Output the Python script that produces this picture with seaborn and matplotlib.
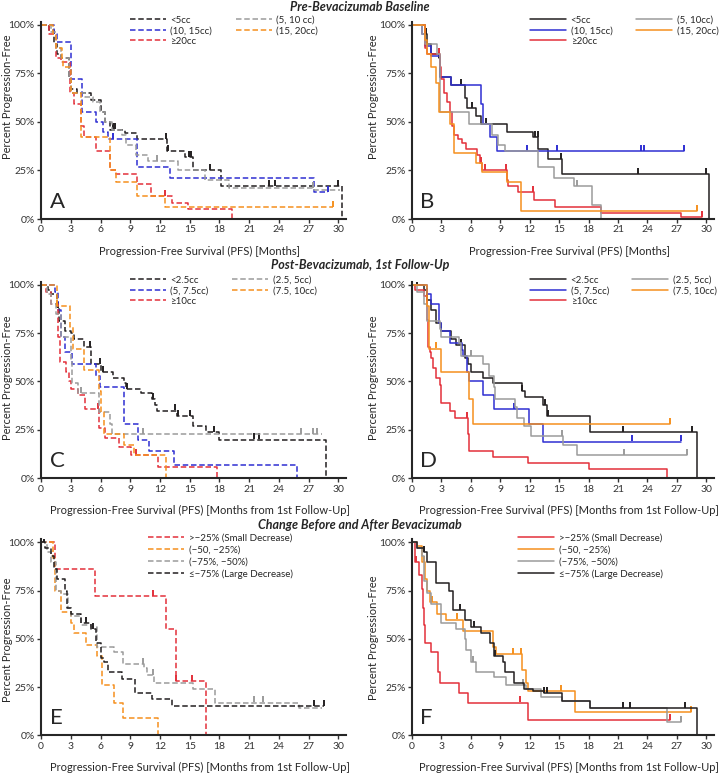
import numpy as np
import pandas as pd
import seaborn as sns
import matplotlib.pyplot as plt

# ---- Kaplan-Meier step data (time in months, survival in %), censor times ----
# Panel A / B : pre-bevacizumab baseline volume
a_lt5_t = [0, 0.8, 1.3, 1.6, 2.0, 2.8, 3.0, 3.6, 5.0, 6.0, 6.5, 7.0, 8.5, 9.7, 12.7, 14.5, 15.3, 18.2, 30.4]
a_lt5_s = [100, 97, 90, 85, 83, 72, 67, 65, 61, 55, 50, 46, 44, 41, 35, 32, 25, 17, 0]
a_lt5_c = [7.3, 7.5, 12.6, 12.8, 14.9, 15.1, 17.0, 23.0, 23.6, 30.0]
a_5_10_t = [0, 1.0, 1.5, 2.0, 2.8, 3.0, 4.4, 5.2, 5.9, 6.5, 7.2, 8.2, 8.6, 9.6, 10.8, 13.8, 16.5, 19.0, 27.5, 30.2]
a_5_10_s = [100, 96, 88, 83, 72, 65, 63, 60, 55, 50, 46, 43, 38, 33, 30, 25, 20, 16, 15, 15]
a_5_10_c = [11.7, 27.4]
a_10_15_t = [0, 1.3, 1.6, 3.0, 4.1, 5.5, 6.3, 6.8, 9.7, 13.0, 27.5, 29.0]
a_10_15_s = [100, 95, 91, 72, 55, 50, 45, 41, 27, 21, 14, 14]
a_10_15_c = [7.3, 29.0]
a_15_20_t = [0, 1.2, 1.5, 2.1, 2.2, 3.0, 4.0, 7.0, 7.6, 9.7, 12.5, 29.5]
a_15_20_s = [100, 95, 88, 83, 78, 65, 42, 25, 19, 12, 6, 6]
a_15_20_c = [29.5]
a_ge20_t = [0, 0.8, 1.5, 2.0, 2.9, 3.3, 4.0, 4.3, 5.5, 7.0, 7.6, 9.7, 11.1, 13.2, 14.8, 19.3]
a_ge20_s = [100, 95, 83, 81, 65, 59, 48, 42, 35, 25, 23, 18, 12, 8, 5, 0]
a_ge20_c = [12.5]

b_lt5_t = [0, 1.3, 1.5, 2.0, 2.8, 2.9, 4.0, 5.4, 5.6, 6.5, 7.0, 9.7, 12.3, 12.9, 13.9, 15.3, 30.3]
b_lt5_s = [100, 95, 90, 85, 83, 73, 69, 62, 57, 53, 49, 45, 42, 36, 31, 23, 0]
b_lt5_c = [1.4, 2.8, 5.0, 6.1, 7.6, 12.5, 12.8, 15.2, 23.0, 30.0]
b_5_10_t = [0, 1.0, 1.3, 2.6, 2.9, 5.8, 8.2, 8.8, 9.5, 12.8, 14.5, 16.5, 18.3, 19.3]
b_5_10_s = [100, 95, 90, 85, 55, 49, 43, 38, 35, 27, 21, 17, 7, 0]
b_5_10_c = [16.8]
b_10_15_t = [0, 1.0, 1.3, 2.0, 2.9, 4.0, 7.0, 7.2, 8.0, 8.7, 27.7]
b_10_15_s = [100, 95, 89, 84, 73, 69, 59, 49, 42, 35, 35]
b_10_15_c = [11.7, 14.8, 23.3, 23.6, 27.7]
b_15_20_t = [0, 1.3, 1.5, 2.0, 2.5, 2.8, 3.9, 4.3, 6.5, 7.1, 9.7, 11.1, 29.0]
b_15_20_s = [100, 92, 85, 78, 70, 55, 49, 34, 29, 24, 19, 4, 4]
b_15_20_c = [29.0]
b_ge20_t = [0, 1.3, 1.5, 2.9, 3.0, 3.3, 3.6, 3.9, 4.1, 4.3, 4.7, 5.1, 5.5, 6.6, 6.9, 7.1,
            9.7, 9.8, 10.8, 12.4, 14.6, 19.3, 27.4, 29.6]
b_ge20_s = [100, 88, 85, 78, 72, 65, 60, 55, 48, 43, 41, 39, 36, 33, 29, 25,
            20, 17, 14, 10, 6, 3, 1, 1]
b_ge20_c = [2.8, 7.0, 7.5, 9.6, 12.3, 29.6]

# Panel C / D : post-bevacizumab, 1st follow-up volume
c_lt25_t = [0, 0.7, 1.0, 1.6, 1.8, 2.4, 3.0, 3.3, 4.3, 5.0, 6.0, 7.3, 8.4, 8.6, 10.1, 11.2, 11.5, 11.7,
            13.7, 15.3, 16.6, 18.0, 28.8]
c_lt25_s = [100, 97, 95, 88, 81, 76, 75, 72, 68, 59, 55, 52, 49, 46, 44, 41, 38, 35,
            32, 27, 24, 20, 0]
c_lt25_c = [1.7, 4.9, 5.9, 6.3, 8.7, 11.3, 13.5, 13.8, 15.0, 17.5, 21.5, 22.0]
c_25_5_t = [0, 0.6, 1.0, 1.5, 2.0, 3.0, 3.1, 3.7, 5.8, 7.0, 7.2, 28.3]
c_25_5_s = [100, 95, 90, 85, 73, 60, 49, 44, 34, 28, 23, 23]
c_25_5_c = [4.0, 10.3, 26.2, 27.4, 27.8]
c_5_75_t = [0, 1.4, 1.7, 2.0, 2.4, 3.1, 5.5, 5.9, 8.4, 9.8, 10.9, 13.4, 25.8]
c_5_75_s = [100, 96, 87, 73, 65, 59, 53, 47, 28, 20, 14, 7, 0]
c_5_75_c = []
c_75_10_t = [0, 1.6, 2.9, 3.2, 4.3, 5.8, 6.0, 6.4, 8.4, 9.4, 12.6]
c_75_10_s = [100, 89, 78, 67, 56, 45, 34, 23, 17, 12, 0]
c_75_10_c = [1.6]
c_ge10_t = [0, 0.5, 1.0, 1.7, 1.9, 2.5, 2.8, 3.0, 3.7, 4.4, 5.8, 6.5, 7.9, 9.1, 11.8, 17.8]
c_ge10_s = [100, 96, 90, 73, 60, 55, 50, 46, 43, 36, 26, 21, 16, 12, 6, 0]
c_ge10_c = [5.7, 9.6]

d_lt25_t = [0, 1.2, 1.5, 2.0, 2.5, 3.0, 4.0, 4.5, 5.4, 5.7, 6.0, 7.2, 8.3, 11.2, 11.5, 13.4, 13.8, 18.1, 29.0]
d_lt25_s = [100, 97, 92, 87, 80, 76, 72, 69, 62, 59, 55, 52, 49, 45, 42, 38, 32, 24, 0]
d_lt25_c = [0.5, 1.5, 5.0, 11.2, 13.6, 13.9, 21.5, 28.5]
d_25_5_t = [0, 0.5, 1.2, 1.5, 2.9, 3.0, 4.8, 5.0, 7.2, 7.9, 8.4, 8.5, 10.5, 10.7, 11.4, 12.1, 15.4, 16.8, 28.0]
d_25_5_s = [100, 96, 90, 81, 77, 73, 70, 63, 59, 53, 47, 41, 37, 31, 27, 22, 17, 12, 12]
d_25_5_c = [6.0, 15.3, 21.6, 28.0]
d_5_75_t = [0, 1.5, 2.0, 2.8, 3.0, 3.9, 5.1, 5.2, 5.6, 5.8, 7.2, 8.4, 11.9, 13.4, 27.4]
d_5_75_s = [100, 95, 90, 80, 76, 70, 66, 63, 55, 50, 43, 36, 28, 19, 19]
d_5_75_c = [1.5, 10.4, 22.4, 27.4]
d_75_10_t = [0, 1.5, 1.7, 3.0, 5.8, 6.2, 26.3]
d_75_10_s = [100, 89, 67, 55, 41, 28, 28]
d_75_10_c = [2.5, 26.3]
d_ge10_t = [0, 0.3, 1.2, 1.5, 1.6, 1.8, 2.0, 2.2, 2.5, 2.9, 3.0, 3.9, 4.4, 5.7, 5.8, 8.3, 11.8, 18.0, 26.0]
d_ge10_s = [100, 97, 94, 82, 68, 65, 62, 57, 52, 48, 39, 35, 31, 23, 14, 11, 8, 5, 0]
d_ge10_c = [5.6]

# Panel E / F : change before and after bevacizumab
e_small_t = [0, 1.4, 5.4, 12.6, 13.6, 16.6]
e_small_s = [100, 86, 72, 55, 28, 0]
e_small_c = [11.3, 13.6, 15.2]
e_50_25_t = [0, 1.2, 1.4, 2.0, 3.0, 3.3, 4.5, 5.6, 6.1, 6.2, 7.4, 8.3, 11.8]
e_50_25_s = [100, 92, 75, 64, 58, 53, 47, 41, 35, 26, 17, 9, 0]
e_50_25_c = []
e_75_50_t = [0, 0.6, 1.0, 1.5, 2.0, 2.7, 3.0, 4.0, 5.0, 5.6, 7.4, 8.3, 10.4, 10.7, 11.4, 15.3, 17.6, 26.0, 28.3]
e_75_50_s = [100, 95, 90, 75, 73, 66, 62, 57, 56, 46, 43, 37, 35, 31, 27, 24, 17, 14, 14]
e_75_50_c = [10.3, 11.3, 21.5, 22.4]
e_large_t = [0, 0.4, 1.0, 1.3, 1.6, 2.4, 2.6, 3.0, 4.0, 5.0, 5.5, 6.0, 6.4, 6.8, 8.2, 9.5, 11.2, 13.2, 28.5]
e_large_s = [100, 97, 93, 86, 81, 75, 66, 63, 58, 55, 48, 40, 38, 33, 29, 22, 19, 15, 15]
e_large_c = [0.3, 4.5, 5.2, 27.5, 28.5]

f_small_t = [0, 0.3, 0.7, 1.0, 1.1, 1.2, 1.3, 2.0, 2.7, 2.9, 4.8, 5.7, 11.8, 26.3]
f_small_s = [100, 90, 83, 76, 66, 57, 48, 43, 33, 27, 22, 17, 8, 8]
f_small_c = [0.4, 11.0, 26.3]
f_50_25_t = [0, 0.5, 1.0, 1.3, 1.5, 1.9, 2.6, 3.5, 5.2, 8.3, 8.6, 11.2, 11.6, 11.8, 16.6, 28.4]
f_50_25_s = [100, 98, 90, 81, 75, 69, 63, 60, 54, 46, 42, 34, 27, 23, 12, 12]
f_50_25_c = [1.2, 2.1, 4.6, 10.3, 11.1, 15.2, 28.4]
f_75_50_t = [0, 0.5, 1.0, 1.2, 1.5, 2.0, 3.0, 4.5, 5.4, 5.5, 6.0, 6.5, 8.4, 9.6, 11.6, 13.2, 15.3, 18.1, 26.0, 27.4]
f_75_50_s = [100, 97, 93, 80, 74, 68, 58, 55, 50, 44, 38, 33, 30, 26, 24, 20, 18, 14, 7, 7]
f_75_50_c = [6.2, 11.3, 27.4]
f_large_t = [0, 0.5, 1.2, 1.5, 2.5, 3.8, 4.2, 5.4, 6.0, 7.0, 8.0, 8.4, 9.3, 9.5, 10.4, 11.4, 12.3, 13.5,
             15.3, 18.1, 29.0]
f_large_s = [100, 97, 95, 90, 79, 75, 65, 60, 56, 53, 48, 41, 38, 33, 27, 24, 23, 22, 18, 14, 0]
f_large_c = [1.2, 4.9, 6.3, 8.5, 13.5, 13.8, 21.5, 22.2, 27.8]

labels_a = ['<5cc', '(10, 15cc)', '\u226520cc', '(5, 10 cc)', '(15, 20cc)']
labels_b = ['<5cc', '(10, 15cc)', '\u226520cc', '(5, 10cc)', '(15, 20cc)']
labels_cd = ['<2.5cc', '(5, 7.5cc)', '\u226510cc', '(2.5, 5cc)', '(7.5, 10cc)']
labels_ef = ['>\u221225% (Small Decrease)', '(\u221250, \u221225%)',
             '(\u221275%, \u221250%)', '\u2264\u221275% (Large Decrease)']
titles = ['Pre-Bevacizumab Baseline', 'Post-Bevacizumab, 1st Follow-Up',
          'Change Before and After Bevacizumab']
xlab_ab = 'Progression-Free Survival (PFS) [Months]'
xlab_cdef = 'Progression-Free Survival (PFS) [Months from 1st Follow-Up]'

BLACK = '#231f20'
GRAY = '#9b9b9b'
BLUE = '#2f2fd2'
ORANGE = '#f5901e'
RED = '#e3303a'

sns.set_style('ticks')
plt.rcParams['font.family'] = ['Lato', 'DejaVu Sans']
plt.rcParams['axes.linewidth'] = 1.5

fig = plt.figure(figsize=(7.2, 7.74), dpi=100)

DASH = (0, (3.6, 1.8))


def km(ax, t, s, cens, color, ls, label):
    df = pd.DataFrame({'months': t, 'pfs': s})
    sns.lineplot(data=df, x='months', y='pfs', ax=ax, color=color, linestyle=ls,
                 lw=1.1, drawstyle='steps-post', estimator=None, sort=False,
                 label=label, legend=False)
    if cens:
        idx = np.searchsorted(t, cens, side='right') - 1
        yc = np.array(s)[idx] + 1.6
        ax.plot(cens, yc, ls='none', marker='|', ms=4.5, mew=1.4, color=color)


def style(ax, letter, xlabel, ylab_x, ylab_y):
    ax.set_xlim(0, 30.8)
    ax.set_ylim(0, 101.5)
    ax.set_xticks(range(0, 31, 3))
    ax.set_yticks([0, 25, 50, 75, 100])
    ax.set_yticklabels(['0%', '25%', '50%', '75%', '100%'])
    ax.tick_params(labelsize=7.5, length=3, width=1, pad=1.5, colors='#333333')
    sns.despine(ax=ax)
    ax.set_xlabel(xlabel, fontsize=8)
    ax.xaxis.set_label_coords(0.52, -0.135)
    ax.set_ylabel('Percent Progression-Free', fontsize=8)
    ax.yaxis.set_label_coords(ylab_x, ylab_y)
    ax.text(0.028, 0.035, letter, transform=ax.transAxes, fontsize=16,
            ha='left', va='bottom')


# axes rectangles: left col / right col, three rows
rows = [(0.717, 0.255), (0.382, 0.254), (0.050, 0.253)]
cols = [(0.057, 0.424), (0.572, 0.420)]
ylab_xs = [-0.092, -0.108]

panels = [
    ('A', 0, 0, DASH, xlab_ab, labels_a, 0.62,
     [(a_lt5_t, a_lt5_s, a_lt5_c, BLACK), (a_10_15_t, a_10_15_s, a_10_15_c, BLUE),
      (a_ge20_t, a_ge20_s, a_ge20_c, RED), (a_5_10_t, a_5_10_s, a_5_10_c, GRAY),
      (a_15_20_t, a_15_20_s, a_15_20_c, ORANGE)]),
    ('B', 0, 1, '-', xlab_ab, labels_b, 0.62,
     [(b_lt5_t, b_lt5_s, b_lt5_c, BLACK), (b_10_15_t, b_10_15_s, b_10_15_c, BLUE),
      (b_ge20_t, b_ge20_s, b_ge20_c, RED), (b_5_10_t, b_5_10_s, b_5_10_c, GRAY),
      (b_15_20_t, b_15_20_s, b_15_20_c, ORANGE)]),
    ('C', 1, 0, DASH, xlab_cdef, labels_cd, 0.51,
     [(c_lt25_t, c_lt25_s, c_lt25_c, BLACK), (c_5_75_t, c_5_75_s, c_5_75_c, BLUE),
      (c_ge10_t, c_ge10_s, c_ge10_c, RED), (c_25_5_t, c_25_5_s, c_25_5_c, GRAY),
      (c_75_10_t, c_75_10_s, c_75_10_c, ORANGE)]),
    ('D', 1, 1, '-', xlab_cdef, labels_cd, 0.51,
     [(d_lt25_t, d_lt25_s, d_lt25_c, BLACK), (d_5_75_t, d_5_75_s, d_5_75_c, BLUE),
      (d_ge10_t, d_ge10_s, d_ge10_c, RED), (d_25_5_t, d_25_5_s, d_25_5_c, GRAY),
      (d_75_10_t, d_75_10_s, d_75_10_c, ORANGE)]),
    ('E', 2, 0, DASH, xlab_cdef, labels_ef, 0.49,
     [(e_small_t, e_small_s, e_small_c, RED), (e_50_25_t, e_50_25_s, e_50_25_c, ORANGE),
      (e_75_50_t, e_75_50_s, e_75_50_c, GRAY), (e_large_t, e_large_s, e_large_c, BLACK)]),
    ('F', 2, 1, '-', xlab_cdef, labels_ef, 0.50,
     [(f_small_t, f_small_s, f_small_c, RED), (f_50_25_t, f_50_25_s, f_50_25_c, ORANGE),
      (f_75_50_t, f_75_50_s, f_75_50_c, GRAY), (f_large_t, f_large_s, f_large_c, BLACK)]),
]

for letter, r, c, ls, xlabel, labels, ylab_y, curves in panels:
    bottom, height = rows[r]
    left, width = cols[c]
    ax = fig.add_axes([left, bottom, width, height])
    for (t, s, cens, color), lab in zip(curves, labels):
        km(ax, t, s, cens, color, ls, lab)
    style(ax, letter, xlabel, ylab_xs[c], ylab_y)
    h, l = ax.get_legend_handles_labels()
    if r < 2:
        ax.legend(h, l, ncol=2, loc='upper left', bbox_to_anchor=(0.29 if c == 0 else 0.39, 1.03),
                  frameon=False, fontsize=7, handlelength=3.7, handletextpad=0.5,
                  columnspacing=2.4, labelspacing=0.15, borderpad=0, borderaxespad=0)
    else:
        ax.legend(h, l, ncol=1, loc='upper left', bbox_to_anchor=(0.35, 1.03),
                  frameon=False, fontsize=7, handlelength=3.7, handletextpad=0.5,
                  labelspacing=0.3, borderpad=0, borderaxespad=0)

for title, y in zip(titles, [0.991, 0.658, 0.322]):
    fig.text(0.5, y, title, ha='center', va='center', fontsize=9,
             fontweight='bold', fontstyle='italic')

fig.savefig('out.png', dpi=100)
